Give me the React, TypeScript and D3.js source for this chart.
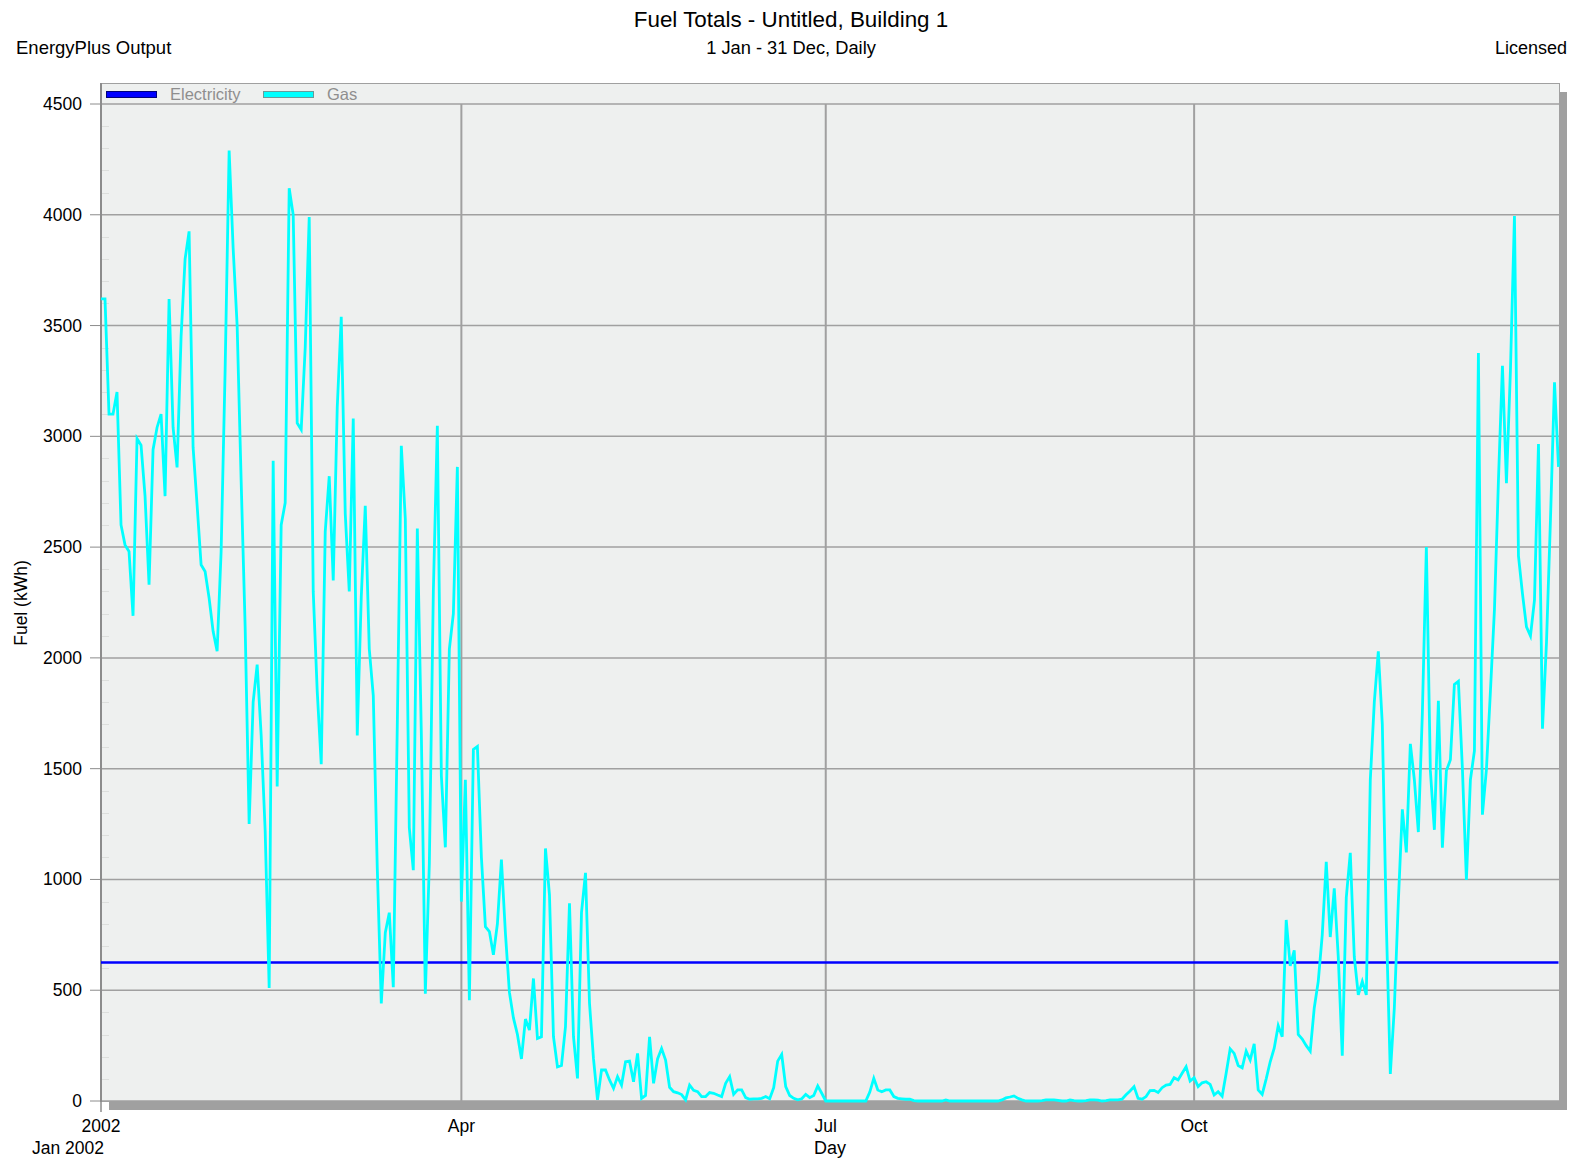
import { useRef, useEffect } from 'react';
import * as d3 from 'd3';

// Daily gas use (kWh), one value per day of 2002
const gasJanMar = [
	3620, 3620, 3100, 3100, 3200, 2600, 2510, 2480, 2190, 2990,
	2960, 2730, 2330, 2940, 3040, 3100, 2730, 3620, 3040, 2860,
	3450, 3800, 3925, 2950, 2690, 2420, 2390, 2270, 2120, 2030,
	2480, 3300, 4290, 3850, 3500, 2800, 2140, 1250, 1800, 1970,
	1650, 1220, 510, 2890, 1420, 2600, 2700, 4120, 4000, 3060,
	3030, 3400, 3990, 2300, 1850, 1520, 2570, 2820, 2350, 3130,
	3540, 2650, 2300, 3080, 1650, 2275, 2686, 2040, 1830, 1050,
	440, 760, 850, 514, 1700, 2957, 2628, 1233, 1042, 2584,
	1659, 484, 1072, 2300, 3048, 1468, 1145, 2040, 2200, 2862,
];
const gasAprJun = [
	900, 1450, 455, 1587, 1600, 1100, 787, 765, 660, 800,
	1090, 757, 490, 375, 300, 190, 370, 320, 553, 282,
	290, 1140, 930, 290, 154, 160, 335, 892, 290, 102,
	850, 1030, 441, 190, 5, 140, 140, 95, 57, 110,
	72, 177, 180, 87, 215, 12, 25, 290, 80, 190,
	237, 185, 62, 42, 37, 29, 5, 72, 48, 42,
	20, 20, 38, 35, 27, 20, 80, 110, 30, 50,
	50, 15, 8, 10, 10, 12, 20, 10, 60, 180,
	210, 65, 25, 12, 5, 10, 30, 15, 25, 68,
	35,
];
const gasJulSep = [
	0, 0, 0, 0, 0, 0, 0, 0, 0,
	0, 0, 40, 102, 50, 42, 50, 50, 20, 12,
	10, 8, 8, 2, 0, 0, 0, 0, 0, 0,
	0, 5, 0, 0, 0, 0, 0, 0, 0, 0,
	0, 0, 0, 0, 0, 5, 14, 18, 23, 12,
	5, 0, 0, 0, 0, 2, 5, 5, 5, 3,
	0, 0, 5, 2, 0, 0, 2, 5, 5, 4,
	0, 2, 5, 5, 5, 8, 28, 45, 65, 12,
	8, 20, 47, 48, 38, 60, 72, 75, 105, 95,
	125, 155, 90,
];
const gasOctDec = [
	105, 65, 82, 87, 75, 27, 42,
	22, 125, 235, 215, 160, 150, 225, 185, 258, 50,
	30, 100, 177, 238, 340, 290, 817, 610, 680, 300,
	280, 250, 225, 420, 540, 750, 1080, 740, 960, 650,
	204, 918, 1120, 650, 479, 540, 479, 1450, 1800, 2030,
	1700, 800, 122, 420, 900, 1316, 1122, 1612, 1450, 1214,
	1750, 2500, 1490, 1224, 1806, 1143, 1490, 1540, 1880, 1894,
	1500, 998, 1450, 1580, 3376, 1292, 1497, 1850, 2217, 2800,
	3318, 2789, 3300, 3994, 2460, 2290, 2140, 2099, 2261, 2965,
	1680, 2070, 2628, 3244, 2862,
];

// Electricity is flat every day of the year
const electricityPerDay = 625;

const YEAR = 2002;
const yTicks = [0, 500, 1000, 1500, 2000, 2500, 3000, 3500, 4000, 4500];
const xTickMonths = [0, 3, 6, 9];
const xTickLabels = ['2002', 'Apr', 'Jul', 'Oct'];

const W = 1582;
const H = 1164;
const FONT = '"Liberation Sans", Arial, sans-serif';
const GRID = '#a0a0a0';

export default function App() {
	const svgRef = useRef<SVGSVGElement>(null);

	useEffect(() => {
		const svg = d3.select(svgRef.current);
		svg.selectAll('*').remove();

		const gas = [...gasJanMar, ...gasAprJun, ...gasJulSep, ...gasOctDec];
		const days = gas.map((_, i) => new Date(Date.UTC(YEAR, 0, 1 + i)));
		const electricity = days.map(() => electricityPerDay);

		const left = 101;
		const right = 1558.5;
		const top = 104;
		const bottom = 1101;

		const x = d3
			.scaleUtc()
			.domain([days[0], days[days.length - 1]])
			.range([left, right]);
		const y = d3.scaleLinear().domain([0, 4500]).range([bottom, top]);

		// Header texts
		svg.append('text')
			.attr('x', W / 2)
			.attr('y', 27)
			.attr('text-anchor', 'middle')
			.attr('font-size', 22.4)
			.text('Fuel Totals - Untitled, Building 1');
		svg.append('text')
			.attr('x', W / 2)
			.attr('y', 54)
			.attr('text-anchor', 'middle')
			.attr('font-size', 18.3)
			.text('1 Jan - 31 Dec, Daily');
		svg.append('text')
			.attr('x', 16)
			.attr('y', 54)
			.attr('font-size', 18.5)
			.text('EnergyPlus Output');
		svg.append('text')
			.attr('x', 1567)
			.attr('y', 54)
			.attr('text-anchor', 'end')
			.attr('font-size', 18)
			.text('Licensed');

		// Shadow and frame
		svg.append('rect')
			.attr('x', 109)
			.attr('y', 92)
			.attr('width', 1458)
			.attr('height', 1018)
			.attr('fill', '#a0a0a0');
		svg.append('rect')
			.attr('x', 100.5)
			.attr('y', 83.5)
			.attr('width', 1459)
			.attr('height', bottom + 0.5 - 83.5)
			.attr('fill', '#eef0ef')
			.attr('stroke', GRID)
			.attr('stroke-width', 1);

		// Minor ticks inside the plot
		const minor = d3.range(100, 4500, 100).filter((v) => v % 500 !== 0);
		svg.append('g')
			.selectAll('line')
			.data(minor)
			.join('line')
			.attr('x1', left + 1)
			.attr('x2', left + 8)
			.attr('y1', (d) => Math.round(y(d)) + 0.5)
			.attr('y2', (d) => Math.round(y(d)) + 0.5)
			.attr('stroke', '#dcdedc')
			.attr('stroke-width', 1);

		// Horizontal grid
		svg.append('g')
			.selectAll('line')
			.data(yTicks)
			.join('line')
			.attr('x1', left)
			.attr('x2', 1559.5)
			.attr('y1', (d) => y(d))
			.attr('y2', (d) => y(d))
			.attr('stroke', GRID)
			.attr('stroke-width', 1.5);

		// Vertical grid at quarter starts
		const tickDates = xTickMonths.map((m) => new Date(Date.UTC(YEAR, m, 1)));
		svg.append('g')
			.selectAll('line')
			.data(tickDates.slice(1))
			.join('line')
			.attr('x1', (d) => x(d))
			.attr('x2', (d) => x(d))
			.attr('y1', top)
			.attr('y2', bottom)
			.attr('stroke', GRID)
			.attr('stroke-width', 2);

		// Y axis line and ticks
		svg.append('line')
			.attr('x1', left)
			.attr('x2', left)
			.attr('y1', 83)
			.attr('y2', bottom + 1)
			.attr('stroke', '#8c8c8c')
			.attr('stroke-width', 2);
		svg.append('g')
			.selectAll('line')
			.data(yTicks)
			.join('line')
			.attr('x1', 90)
			.attr('x2', left)
			.attr('y1', (d) => y(d))
			.attr('y2', (d) => y(d))
			.attr('stroke', '#8c8c8c')
			.attr('stroke-width', 1);
		svg.append('g')
			.selectAll('text')
			.data(yTicks)
			.join('text')
			.attr('x', 82)
			.attr('y', (d) => y(d) + 6)
			.attr('text-anchor', 'end')
			.attr('font-size', 17.5)
			.text((d) => d);

		// X ticks and labels
		svg.append('line')
			.attr('x1', left)
			.attr('x2', left)
			.attr('y1', bottom)
			.attr('y2', bottom + 11)
			.attr('stroke', '#8c8c8c')
			.attr('stroke-width', 1.5);
		svg.append('g')
			.selectAll('text')
			.data(tickDates)
			.join('text')
			.attr('x', (d) => x(d))
			.attr('y', 1132)
			.attr('text-anchor', 'middle')
			.attr('font-size', 17.5)
			.text((_, i) => xTickLabels[i]);

		// Axis titles
		svg.append('text')
			.attr('x', 32)
			.attr('y', 1154)
			.attr('font-size', 17.5)
			.text('Jan 2002');
		svg.append('text')
			.attr('x', (left + 1559) / 2)
			.attr('y', 1154)
			.attr('text-anchor', 'middle')
			.attr('font-size', 18)
			.text('Day');
		svg.append('text')
			.attr('transform', `translate(27,603) rotate(-90)`)
			.attr('text-anchor', 'middle')
			.attr('font-size', 17.5)
			.text('Fuel (kWh)');

		// Legend
		const legend = [
			{ name: 'Electricity', fill: '#0000ff', stroke: '#00007a', sx: 106, tx: 170 },
			{ name: 'Gas', fill: '#00ffff', stroke: '#6a9a9a', sx: 263, tx: 327 },
		];
		legend.forEach((l) => {
			svg.append('rect')
				.attr('x', l.sx + 0.5)
				.attr('y', 91.5)
				.attr('width', 50)
				.attr('height', 6)
				.attr('fill', l.fill)
				.attr('stroke', l.stroke)
				.attr('stroke-width', 1);
			svg.append('text')
				.attr('x', l.tx)
				.attr('y', 100)
				.attr('font-size', 16.5)
				.attr('fill', '#8e8e8e')
				.text(l.name);
		});

		// Series
		const line = d3
			.line<number>()
			.x((_, i) => x(days[i]))
			.y((d) => y(d));

		svg.append('path')
			.datum(electricity)
			.attr('d', line)
			.attr('fill', 'none')
			.attr('stroke', '#0000ff')
			.attr('stroke-width', 2.6);

		svg.append('path')
			.datum(gas)
			.attr('d', line)
			.attr('fill', 'none')
			.attr('stroke', '#00ffff')
			.attr('stroke-width', 2.8)
			.attr('stroke-linejoin', 'miter');
	}, []);

	return (
		<svg
			ref={svgRef}
			width={W}
			height={H}
			style={{
				position: 'absolute',
				left: 0,
				top: 0,
				fontFamily: FONT,
				background: '#ffffff',
			}}
		/>
	);
}
